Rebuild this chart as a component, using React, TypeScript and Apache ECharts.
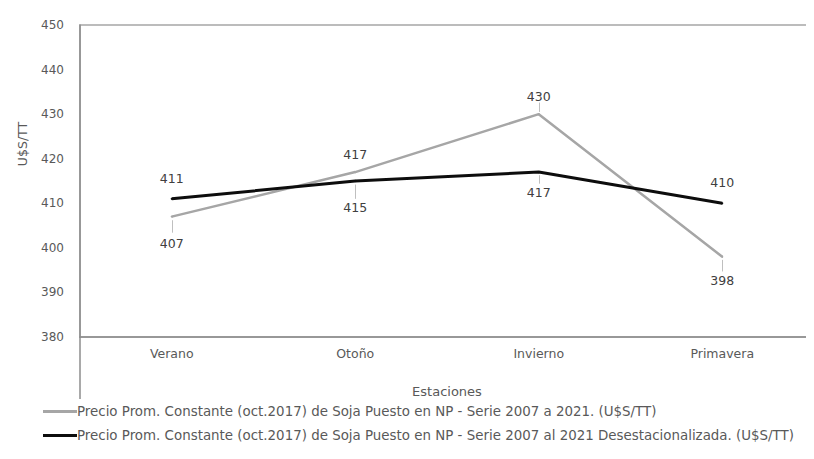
import React, { useEffect, useRef } from "react";
import * as echarts from "echarts";

const categories = ["Verano", "Otoño", "Invierno", "Primavera"];
const serieOriginal = [407, 417, 430, 398];
const serieDesest = [411, 415, 417, 410];
const seriesNames = [
  "Precio Prom. Constante (oct.2017) de Soja Puesto en NP - Serie 2007 a 2021. (U$S/TT)",
  "Precio Prom. Constante (oct.2017) de Soja Puesto en NP - Serie 2007 al 2021 Desestacionalizada. (U$S/TT)",
];
// label placement per point: "top" or "bottom"
const origLabelPos = ["bottom", "top", "top", "bottom"];
const desestLabelPos = ["top", "bottom", "bottom", "top"];
// data-label leader lines: [category, fromValue, toValue]
const origLeaders: [string, number, number][] = [
  ["Verano", 406.2, 403.4],
  ["Invierno", 430.5, 432.6],
  ["Primavera", 397.3, 394.7],
];
const desestLeaders: [string, number, number][] = [
  ["Otoño", 414.2, 411.0],
  ["Invierno", 416.3, 414.4],
];

const FONT = "'DejaVu Sans', sans-serif";
const TXT = "#595959";
const GRAY = "#a6a6a6";
const BLACK = "#0d0d0d";

function buildData(values: number[], pos: string[], dists: number[]) {
  return values.map((v, i) => ({
    value: v,
    label: { position: pos[i], distance: dists[i] },
  }));
}

function leaderLines(list: [string, number, number][]) {
  return {
    silent: true,
    symbol: "none",
    label: { show: false },
    lineStyle: { color: "#bfbfbf", width: 1, type: "solid" },
    data: list.map(([c, a, b]) => [{ coord: [c, a] }, { coord: [c, b] }]),
  };
}

export default function App() {
  const ref = useRef<HTMLDivElement>(null);
  useEffect(() => {
    if (!ref.current) return;
    const chart = echarts.init(ref.current, undefined, { renderer: "svg" });
    chart.setOption({
      animation: false,
      textStyle: { fontFamily: FONT },
      grid: {
        left: 80,
        right: -6,
        top: 25,
        bottom: 122,
        show: true,
        borderColor: GRAY,
        borderWidth: 1.5,
        backgroundColor: "transparent",
      },
      xAxis: {
        type: "category",
        data: categories,
        boundaryGap: true,
        axisLine: { show: true, lineStyle: { color: "#8c8c8c", width: 1.5 } },
        axisTick: { show: false },
        axisLabel: { color: TXT, fontSize: 12.5, margin: 10, fontFamily: FONT },
        name: "Estaciones",
        nameLocation: "middle",
        nameGap: 48,
        nameTextStyle: { color: TXT, fontSize: 13, fontFamily: FONT },
      },
      yAxis: {
        type: "value",
        min: 380,
        max: 450,
        interval: 10,
        axisLine: { show: true, lineStyle: { color: "#8c8c8c", width: 1.5 } },
        axisTick: { show: false },
        splitLine: { show: false },
        axisLabel: { color: TXT, fontSize: 12, margin: 16, fontFamily: FONT },
      },
      legend: {
        orient: "vertical",
        left: 43,
        top: 405,
        padding: 0,
        itemWidth: 34,
        itemHeight: 3,
        itemGap: 11,
        textStyle: { color: TXT, fontSize: 13.4, fontFamily: FONT, padding: [0, 0, 0, -5] },
        data: [
          { name: seriesNames[0], icon: "rect", itemStyle: { color: GRAY } },
          { name: seriesNames[1], icon: "rect", itemStyle: { color: BLACK } },
        ],
      },
      graphic: [
        {
          type: "line",
          shape: { x1: 80, y1: 337, x2: 80, y2: 399 },
          style: { stroke: "#8c8c8c", lineWidth: 1.5 },
        },
        {
          type: "text",
          x: 22,
          y: 144,
          rotation: Math.PI / 2,
          style: {
            text: "U$S/TT",
            fill: TXT,
            font: `12.5px ${FONT}`,
            align: "center",
            verticalAlign: "middle",
          },
        },
      ],
      series: [
        {
          name: seriesNames[0],
          type: "line",
          symbol: "circle",
          symbolSize: 2,
          showSymbol: true,
          data: buildData(serieOriginal, origLabelPos, [19, 10, 10, 16]),
          lineStyle: { color: GRAY, width: 2.5 },
          itemStyle: { color: GRAY },
          label: { show: true, color: "#404040", fontSize: 12.5, fontFamily: FONT },
          markLine: leaderLines(origLeaders),
        },
        {
          name: seriesNames[1],
          type: "line",
          symbol: "circle",
          symbolSize: 2,
          showSymbol: true,
          data: buildData(serieDesest, desestLabelPos, [13, 19, 13, 13]),
          lineStyle: { color: BLACK, width: 3 },
          itemStyle: { color: BLACK },
          label: { show: true, color: "#404040", fontSize: 12.5, fontFamily: FONT },
          markLine: leaderLines(desestLeaders),
        },
      ],
    });
    return () => chart.dispose();
  }, []);
  return <div ref={ref} style={{ width: 814, height: 459, margin: -8 }} />;
}
